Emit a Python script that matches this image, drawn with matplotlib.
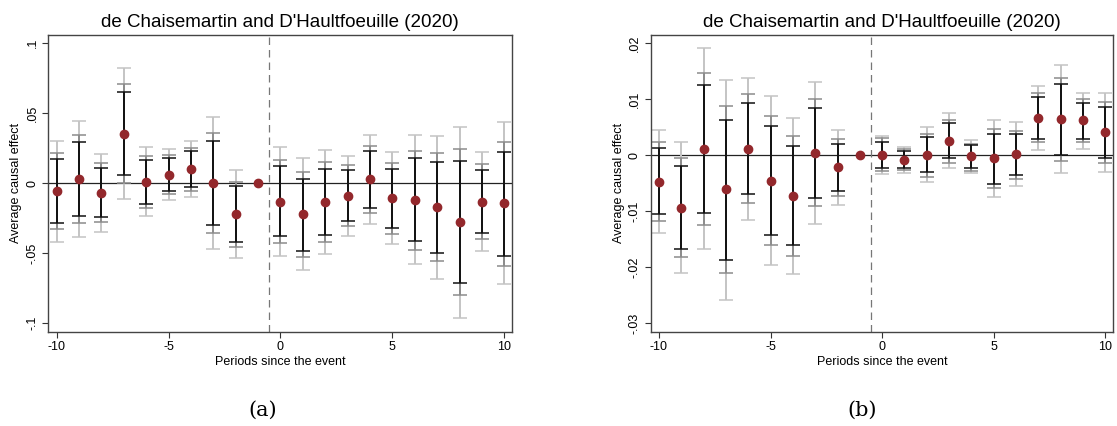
import numpy as np
import matplotlib.pyplot as plt

periods = np.arange(-10, 11)

# panel (a)
est_a = [-0.0055, 0.0031, -0.0067, 0.0355, 0.0007, 0.006, 0.010, 0.0, -0.0219, 0.0,
         -0.0131, -0.0221, -0.0136, -0.009, 0.0029, -0.0107, -0.0119, -0.0171, -0.0279, -0.0131, -0.0143]
lo1_a = [-0.0286, -0.0233, -0.0243, 0.0057, -0.015, -0.0055, -0.0026, -0.030, -0.0421, 0.0,
         -0.0379, -0.0481, -0.0371, -0.0271, -0.0176, -0.0319, -0.0414, -0.0495, -0.071, -0.0357, -0.0517]
hi1_a = [0.0174, 0.0295, 0.011, 0.0655, 0.0167, 0.0179, 0.0229, 0.0302, -0.0021, 0.0,
         0.0124, 0.0031, 0.0102, 0.0093, 0.0231, 0.010, 0.0181, 0.0152, 0.016, 0.0095, 0.0224]
lo2_a = [-0.0329, -0.0286, -0.0279, 0.0, -0.0179, -0.0079, -0.0055, -0.0357, -0.0457, 0.0,
         -0.0424, -0.0529, -0.0417, -0.0307, -0.0214, -0.0362, -0.0474, -0.0557, -0.0798, -0.040, -0.0588]
hi2_a = [0.0214, 0.0345, 0.0145, 0.071, 0.0193, 0.0202, 0.0252, 0.0362, 0.0012, 0.0,
         0.0167, 0.0079, 0.0152, 0.0129, 0.0267, 0.0143, 0.0233, 0.0214, 0.0243, 0.0136, 0.0295]
lo3_a = [-0.0417, -0.0386, -0.0345, -0.0114, -0.0233, -0.0119, -0.0095, -0.0471, -0.0531, 0.0,
         -0.0521, -0.0621, -0.0507, -0.0379, -0.029, -0.0436, -0.0579, -0.0681, -0.096, -0.0486, -0.0721]
hi3_a = [0.0302, 0.0445, 0.0207, 0.082, 0.0257, 0.0243, 0.0302, 0.0474, 0.0093, 0.0,
         0.0257, 0.0179, 0.0238, 0.0193, 0.0343, 0.0221, 0.0343, 0.0336, 0.0402, 0.0224, 0.0438]

# panel (b)
est_b = [-0.0047, -0.0094, 0.0012, -0.0061, 0.0012, -0.0045, -0.0073, 0.0004, -0.0021, 0.0,
         0.0001, -0.0009, 0.0, 0.0025, -0.0002, -0.0005, 0.0002, 0.0067, 0.0065, 0.0063, 0.0041]
lo1_b = [-0.0105, -0.0168, -0.0103, -0.0187, -0.0069, -0.0142, -0.0161, -0.0077, -0.0063, 0.0,
         -0.0023, -0.0023, -0.003, -0.0005, -0.0022, -0.0051, -0.0035, 0.003, 0.0001, 0.003, -0.0005]
hi1_b = [0.00125, -0.0019, 0.0126, 0.0063, 0.0094, 0.0052, 0.0016, 0.0085, 0.0021, 0.0,
         0.0023, 0.0008, 0.0032, 0.0058, 0.0018, 0.0038, 0.0038, 0.0105, 0.0128, 0.0094, 0.0087]
lo2_b = [-0.0117, -0.0181, -0.0124, -0.021, -0.0085, -0.016, -0.018, -0.0091, -0.0072, 0.0,
         -0.0028, -0.0027, -0.0039, -0.0013, -0.0028, -0.0059, -0.0042, 0.0023, -0.001, 0.0023, -0.0014]
hi2_b = [0.0023, -0.0004, 0.0147, 0.0089, 0.0109, 0.007, 0.0034, 0.0101, 0.0029, 0.0,
         0.0031, 0.0012, 0.0039, 0.0064, 0.0021, 0.0047, 0.0044, 0.0112, 0.0139, 0.0101, 0.0096]
lo3_b = [-0.0139, -0.021, -0.0167, -0.0259, -0.0115, -0.0196, -0.0212, -0.0123, -0.0088, 0.0,
         -0.0034, -0.0032, -0.0048, -0.0023, -0.0032, -0.0075, -0.0054, 0.001, -0.0032, 0.0012, -0.003]
hi3_b = [0.0045, 0.0024, 0.0191, 0.0135, 0.0139, 0.0106, 0.0066, 0.0131, 0.0045, 0.0,
         0.0035, 0.0015, 0.005, 0.0076, 0.0028, 0.0063, 0.0059, 0.0124, 0.0162, 0.0112, 0.0112]

title = "de Chaisemartin and D'Haultfoeuille (2020)"

plt.rcParams['font.family'] = ['Liberation Sans', 'DejaVu Sans']
plt.rcParams['axes.unicode_minus'] = False
fig = plt.figure(figsize=(11.17, 4.26), dpi=100)


def draw(ax, est, bands, ylim, yticks, ylabels, caption, cap_x):
    est = np.array(est)
    colors = ['#c4c4c4', '#8c8c8c', '#111111']
    for (lo, hi), c in zip(bands, colors):
        lo, hi = np.array(lo), np.array(hi)
        keep = periods != -1
        ax.errorbar(periods[keep], (lo[keep] + hi[keep]) / 2, yerr=(hi[keep] - lo[keep]) / 2,
                    fmt='none', ecolor=c, elinewidth=1.4, capsize=5, capthick=1.1, zorder=2)
    ax.axhline(0, color='#222222', lw=0.9, zorder=1)
    ax.axvline(-0.5, color='#777777', lw=0.9, ls=(0, (6, 4)), zorder=1)
    ax.plot(periods, est, 'o', color='#93282c', ms=6, zorder=3)
    ax.set_xlim(-10.37, 10.35)
    ax.set_ylim(*ylim)
    ax.set_xticks([-10, -5, 0, 5, 10])
    ax.set_yticks(yticks)
    ax.set_yticklabels(ylabels, rotation=90, va='center')
    ax.tick_params(labelsize=9, length=4, color='#333333', pad=3)
    for s in ax.spines.values():
        s.set_color('#444444')
        s.set_linewidth(1.0)
    ax.set_title(title, fontsize=13.5, pad=6)
    ax.set_xlabel('Periods since the event', fontsize=9, labelpad=2)
    ax.set_ylabel('Average causal effect', fontsize=9, labelpad=3)
    ax.text(cap_x, -0.265, caption, transform=ax.transAxes, ha='center', va='center',
            fontsize=15, family='DejaVu Serif')


ax1 = fig.add_axes([0.0432, 0.2214, 0.4154, 0.6965])
draw(ax1, est_a, [(lo3_a, hi3_a), (lo2_a, hi2_a), (lo1_a, hi1_a)],
     (-0.106, 0.1059), [-0.1, -0.05, 0, 0.05, 0.1], ['-.1', '-.05', '0', '.05', '.1'], '(a)', 0.463)

ax2 = fig.add_axes([0.5825, 0.2214, 0.4141, 0.6965])
draw(ax2, est_b, [(lo3_b, hi3_b), (lo2_b, hi2_b), (lo1_b, hi1_b)],
     (-0.0315, 0.0215), [-0.03, -0.02, -0.01, 0, 0.01, 0.02],
     ['-.03', '-.02', '-.01', '0', '.01', '.02'], '(b)', 0.457)

plt.savefig('out.png', dpi=100)
